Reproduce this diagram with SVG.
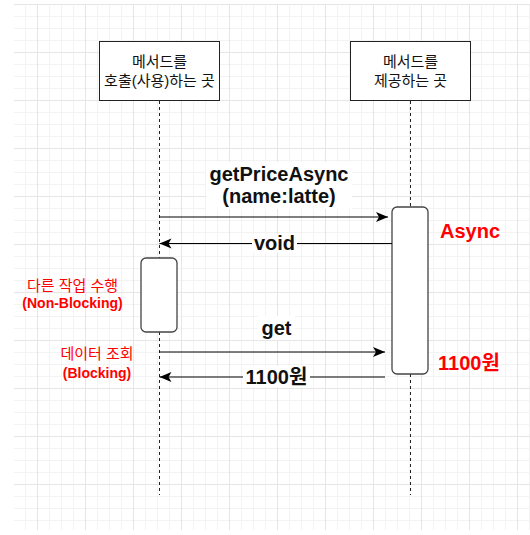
<svg xmlns="http://www.w3.org/2000/svg" width="530" height="535" viewBox="0 0 530 535">
<style>
text{font-family:"Liberation Sans","Noto Sans CJK KR",sans-serif}
.box{fill:#fff;stroke:#222;stroke-width:1}
.act{fill:#fff;stroke:#444;stroke-width:1.3}
.life{stroke:#222;stroke-width:1;stroke-dasharray:3 3;fill:none}
.msg{stroke:#000;stroke-width:1.2;fill:none}
.lbl{font-size:15px;fill:#111;text-anchor:middle}
.el{font-size:20px;font-weight:bold;fill:#111;text-anchor:middle}
.red{fill:#ff0000;text-anchor:middle}
.bg{fill:#fff}
</style>
<defs>
<pattern id="grid" x="37" y="4" width="48" height="48" patternUnits="userSpaceOnUse">
<path d="M12.5 0V48M24.5 0V48M36.5 0V48M0 12.5H48M0 24.5H48M0 36.5H48" stroke="#f3f3f3" stroke-width="1" fill="none"/>
<path d="M0.5 0V48M0 0.5H48" stroke="#e6e6e6" stroke-width="1" fill="none"/>
</pattern>
<marker id="arr" viewBox="-13 -6 14 12" refX="0" refY="0" markerWidth="14" markerHeight="12" markerUnits="userSpaceOnUse" orient="auto">
<path d="M0 0L-12 -5L-9 0L-12 5Z" fill="#000"/>
</marker>
</defs>
<rect x="0" y="0" width="530" height="535" fill="#fff"/>
<rect x="14" y="4" width="516" height="526" fill="url(#grid)"/>

<g id="lifelines">
<path class="life" d="M159.5 101V258M159.5 332V495"/>
<path class="life" d="M410.5 101V207M410.5 374V495"/>
</g>

<g id="caller">
<rect class="box" x="99.5" y="41.5" width="120" height="59"/>
<text class="lbl" x="159.5" y="67">메서드를</text>
<text class="lbl" x="159.5" y="86">호출(사용)하는 곳</text>
</g>

<g id="provider">
<rect class="box" x="350.5" y="41.5" width="120" height="59"/>
<text class="lbl" x="410.5" y="67">메서드를</text>
<text class="lbl" x="410.5" y="86">제공하는 곳</text>
</g>

<g id="caller-activation">
<rect class="act" x="141" y="258" width="36" height="74" rx="5"/>
</g>

<g id="provider-activation">
<rect class="act" x="392" y="207" width="36" height="167" rx="5"/>
</g>

<g id="connectors">
<line class="msg" x1="159" y1="217" x2="388" y2="217" marker-end="url(#arr)"/>
<line class="msg" x1="392" y1="243.5" x2="159.5" y2="243.5" marker-end="url(#arr)"/>
<line class="msg" x1="159" y1="352" x2="385" y2="352" marker-end="url(#arr)"/>
<line class="msg" x1="385" y1="377" x2="159.5" y2="377" marker-end="url(#arr)"/>
<rect class="bg" x="206" y="162" width="146" height="47"/>
<text class="el" x="279" y="181">getPriceAsync</text>
<text class="el" x="279" y="203">(name:latte)</text>
<rect class="bg" x="252" y="234" width="45" height="19"/>
<text class="el" x="274.5" y="250">void</text>
<rect class="bg" x="258" y="316" width="37" height="24"/>
<text class="el" x="276.5" y="335">get</text>
<rect class="bg" x="243" y="366" width="67" height="21"/>
<text class="el" x="276.5" y="384">1100원</text>
</g>

<g id="notes">
<text class="red" x="470" y="238" style="font-size:20px;font-weight:bold">Async</text>
<text class="red" x="469" y="370" style="font-size:20px;font-weight:bold">1100원</text>
<text class="red" x="72.5" y="291" style="font-size:15px">다른 작업 수행</text>
<text class="red" x="72.5" y="308" style="font-size:14px;font-weight:bold">(Non-Blocking)</text>
<text class="red" x="97" y="359" style="font-size:15px">데이터 조회</text>
<text class="red" x="97" y="378" style="font-size:14px;font-weight:bold">(Blocking)</text>
</g>
</svg>
